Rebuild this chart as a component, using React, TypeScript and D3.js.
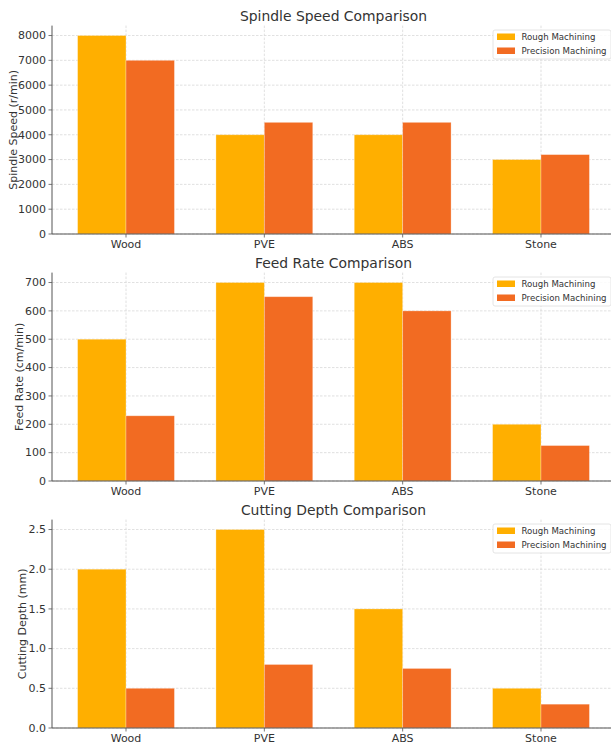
import React from "react";
import * as d3 from "d3";

const materials = ["Wood", "PVE", "ABS", "Stone"];
const seriesNames = ["Rough Machining", "Precision Machining"];
const seriesColors = ["#FFAF00", "#F26B22"];

const spindleRough = [8000, 4000, 4000, 3000];
const spindlePrecision = [7000, 4500, 4500, 3200];
const spindleTicks = [0, 1000, 2000, 3000, 4000, 5000, 6000, 7000, 8000];

const feedRough = [500, 700, 700, 200];
const feedPrecision = [230, 650, 600, 125];
const feedTicks = [0, 100, 200, 300, 400, 500, 600, 700];

const depthRough = [2.0, 2.5, 1.5, 0.5];
const depthPrecision = [0.5, 0.8, 0.75, 0.3];
const depthTicks = [0, 0.5, 1.0, 1.5, 2.0, 2.5];

const panels = [
  { title: "Spindle Speed Comparison", ylabel: "Spindle Speed (r/min)", labelX: 13, rough: spindleRough, precision: spindlePrecision, ticks: spindleTicks, fmt: (v: number) => String(v) },
  { title: "Feed Rate Comparison", ylabel: "Feed Rate (cm/min)", labelX: 19.5, rough: feedRough, precision: feedPrecision, ticks: feedTicks, fmt: (v: number) => String(v) },
  { title: "Cutting Depth Comparison", ylabel: "Cutting Depth (mm)", labelX: 22, rough: depthRough, precision: depthPrecision, ticks: depthTicks, fmt: (v: number) => v.toFixed(1) },
];

const W = 611;
const H = 745;
const FONT = "DejaVu Sans, sans-serif";
const TEXT = "#333333";

function Panel({ p, top }: { p: typeof panels[number]; top: number }) {
  const left = 52;
  const right = 615;
  const plotTop = top + 25.6;
  const plotBottom = top + 234;
  const bw = 0.35;
  const x = d3.scaleLinear().domain([-0.535, 3.535]).range([left, right]);
  const maxV = d3.max([...p.rough, ...p.precision]) as number;
  const y = d3.scaleLinear().domain([0, maxV * 1.05]).range([plotBottom, plotTop]);
  const series = [p.rough, p.precision];
  return (
    <g>
      <text x={(left + right) / 2} y={top + 21} textAnchor="middle" fontSize={13.9} fill={TEXT} fontFamily={FONT}>{p.title}</text>
      {p.ticks.map((t) => (
        <line key={"gy" + t} x1={left} x2={right} y1={y(t)} y2={y(t)} stroke="#d8d8d8" strokeWidth={0.8} strokeDasharray="2.5,1.5" />
      ))}
      {materials.map((m, i) => (
        <line key={"gx" + m} x1={x(i)} x2={x(i)} y1={plotTop} y2={plotBottom} stroke="#d8d8d8" strokeWidth={0.8} strokeDasharray="2.5,1.5" />
      ))}
      {series.map((vals, s) =>
        vals.map((v, i) => {
          const x0 = s === 0 ? x(i - bw) : x(i);
          const x1 = s === 0 ? x(i) : x(i + bw);
          return (
            <rect key={s + "-" + i} x={x0} y={y(v)} width={x1 - x0} height={plotBottom - y(v)} fill={seriesColors[s]} stroke="#ffffff" strokeOpacity={0.35} strokeWidth={0.8} />
          );
        })
      )}
      <line x1={left} x2={left} y1={plotTop} y2={plotBottom} stroke="#555555" strokeWidth={1} />
      <line x1={left} x2={right} y1={plotBottom} y2={plotBottom} stroke="#555555" strokeWidth={1} />
      {p.ticks.map((t) => (
        <g key={"yt" + t}>
          <line x1={left - 3.5} x2={left} y1={y(t)} y2={y(t)} stroke="#555555" strokeWidth={0.8} />
          <text x={left - 6} y={y(t)} dy="0.35em" textAnchor="end" fontSize={11} fill={TEXT} fontFamily={FONT}>{p.fmt(t)}</text>
        </g>
      ))}
      {materials.map((m, i) => (
        <g key={"xt" + m}>
          <line x1={x(i)} x2={x(i)} y1={plotBottom} y2={plotBottom + 3.5} stroke="#555555" strokeWidth={0.8} />
          <text x={x(i)} y={plotBottom + 13.5} textAnchor="middle" fontSize={11} fill={TEXT} fontFamily={FONT}>{m}</text>
        </g>
      ))}
      <text transform={`translate(${p.labelX},${(plotTop + plotBottom) / 2}) rotate(-90)`} dy="0.35em" textAnchor="middle" fontSize={11} fill={TEXT} fontFamily={FONT}>{p.ylabel}</text>
      <g>
        <rect x={493} y={top + 30} width={118} height={29} rx={2} fill="#ffffff" fillOpacity={0.85} stroke="#dddddd" strokeWidth={0.8} />
        {seriesNames.map((n, s) => (
          <g key={n}>
            <rect x={497} y={top + 34 + s * 14 - 0.5} width={18} height={6.5} fill={seriesColors[s]} />
            <text x={521.5} y={top + 37 + s * 14} dy="0.35em" fontSize={8.6} fill={TEXT} fontFamily={FONT}>{n}</text>
          </g>
        ))}
      </g>
    </g>
  );
}

export default function App() {
  return (
    <svg width={W} height={H} style={{ position: "absolute", left: 0, top: 0, background: "#fff" }}>
      <rect width={W} height={H} fill="#ffffff" />
      {panels.map((p, k) => (
        <Panel key={p.title} p={p} top={k * 247} />
      ))}
    </svg>
  );
}
